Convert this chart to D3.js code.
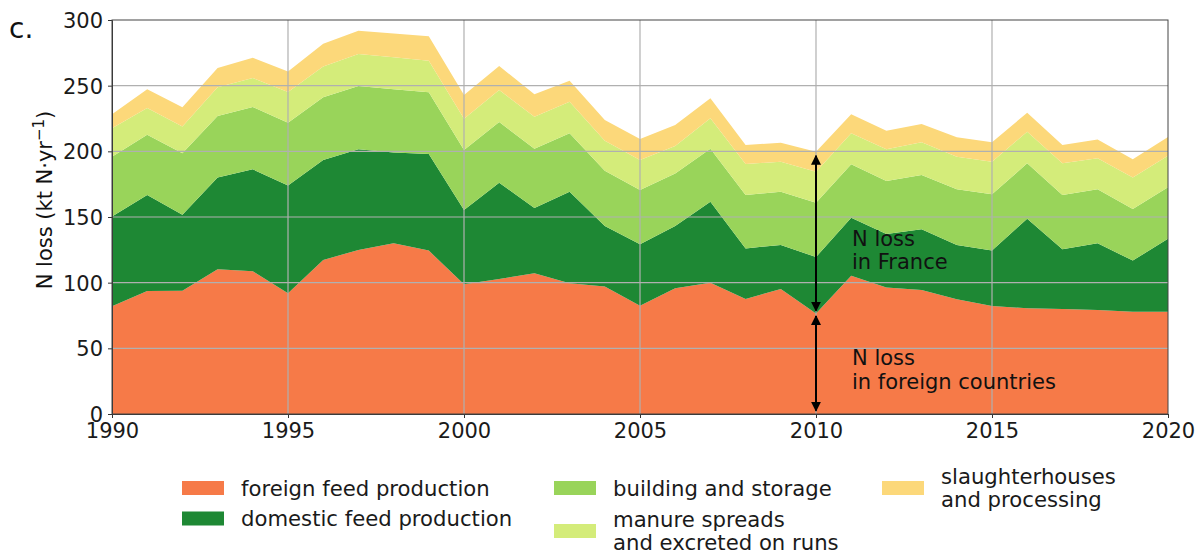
<!DOCTYPE html>
<html>
<head>
<meta charset="utf-8">
<script src="https://cdn.jsdelivr.net/npm/d3@7"></script>
<style>
	body { margin: 0; background: #fff; }
	svg { font-family: "DejaVu Sans", sans-serif; }
</style>
</head>
<body>
<svg id="chart"></svg>
<script>
// values, kt N per year
const years = d3.range(1990, 2021);
const foreignFeed = [82, 93.7, 93.9, 110.2, 108.6, 91.9, 117.3, 124.9, 130, 124.4, 98.7, 102.8, 107.1, 99.5, 97, 82.5, 95.7, 100, 87.6, 95.2, 76.6, 105.3, 96.4, 94.4, 87.3, 82.2, 80.5, 79.9, 79.2, 77.9, 77.9];
const domesticFeed = [68.3, 73.1, 57.9, 69.8, 77.7, 82, 76.1, 76.6, 69.2, 73.6, 56.6, 73.3, 49.8, 69.8, 46.1, 46.7, 47.4, 61.7, 38.5, 33.5, 42.9, 44.2, 40.7, 46.2, 41.4, 42.2, 68.2, 45.5, 50.8, 38.9, 55.6];
const buildingStorage = [45.6, 45.9, 46.7, 46.9, 47.5, 47.9, 47.7, 48.2, 48, 46.9, 45.7, 46.2, 45.1, 44.4, 42.2, 41.4, 40.1, 40.3, 40.7, 40.6, 41.4, 40.6, 40.3, 41.4, 42.4, 42.9, 42.2, 41.4, 41.1, 39.3, 39.1];
const manureRuns = [21.6, 20.3, 20.5, 21.8, 22, 23.4, 23.4, 24.4, 24.4, 24.1, 23.9, 24.4, 24.4, 24.1, 22.8, 22.8, 20.9, 23.1, 23.6, 22.8, 23.6, 23.6, 24.1, 24.9, 24.8, 24.8, 24.1, 24.1, 23.6, 23.9, 24.1];
const slaughterProcessing = [10.7, 14.2, 14.5, 14.8, 15.5, 15.5, 17.5, 17.8, 18.2, 18.6, 18, 18.3, 17, 16, 15.8, 16, 16, 15.3, 14.4, 14.5, 15.2, 14.5, 14.2, 13.9, 14.8, 14.8, 14.4, 13.9, 14.4, 13.9, 14.2];

const seriesKeys = ["foreign", "domestic", "building", "manure", "slaughter"];
const seriesLabels = [["foreign feed production"], ["domestic feed production"], ["building and storage"], ["manure spreads", "and excreted on runs"], ["slaughterhouses", "and processing"]];
const seriesColors = ["#f67a48", "#1e8834", "#99d45a", "#d4ec7a", "#fcd87a"];
const yTicks = [0, 50, 100, 150, 200, 250, 300];
const xTicks = [1990, 1995, 2000, 2005, 2010, 2015, 2020];
const markYear = 2010;

const viewWidth = 1202, viewHeight = 554;
const margin = { left: 112, right: 34, top: 20, bottom: 140 };
const width = 1168 - margin.left;
const height = 414 - margin.top;

const rows = years.map((yr, i) => ({
	year: yr,
	foreign: foreignFeed[i],
	domestic: domesticFeed[i],
	building: buildingStorage[i],
	manure: manureRuns[i],
	slaughter: slaughterProcessing[i]
}));

const svg = d3.select("#chart")
	.attr("width", viewWidth)
	.attr("height", viewHeight);

const g = svg.append("g")
	.attr("transform", "translate(" + margin.left + "," + margin.top + ")");

const x = d3.scaleLinear().domain([1990, 2020]).range([0, width]);
const y = d3.scaleLinear().domain([0, 300]).range([height, 0]);

const stacked = d3.stack().keys(seriesKeys)(rows);

const area = d3.area()
	.x(d => x(d.data.year))
	.y0(d => y(d[0]))
	.y1(d => y(d[1]));

g.selectAll(".layer")
	.data(stacked)
	.join("path")
	.attr("class", "layer")
	.attr("fill", (d, i) => seriesColors[i])
	.attr("d", area);

// grid lines sit above the areas
g.append("g")
	.selectAll("line")
	.data(yTicks.slice(1, -1))
	.join("line")
	.attr("x1", 0).attr("x2", width)
	.attr("y1", d => y(d)).attr("y2", d => y(d))
	.attr("stroke", "#b0b0b0")
	.attr("stroke-width", 1.2);

g.append("g")
	.selectAll("line")
	.data(xTicks.slice(1, -1))
	.join("line")
	.attr("x1", d => x(d)).attr("x2", d => x(d))
	.attr("y1", 0).attr("y2", height)
	.attr("stroke", "#b0b0b0")
	.attr("stroke-width", 1.2);

// axes
const xAxis = g.append("g")
	.attr("transform", "translate(0," + height + ")")
	.call(d3.axisBottom(x).tickValues(xTicks).tickFormat(d3.format("d")).tickSize(4).tickPadding(5));
const yAxis = g.append("g")
	.call(d3.axisLeft(y).tickValues(yTicks).tickSize(4).tickPadding(5));

[xAxis, yAxis].forEach(ax => {
	ax.selectAll("text")
		.style("font-family", "DejaVu Sans")
		.style("font-size", "21px")
		.attr("fill", "#1a1a1a");
	ax.selectAll("line").attr("stroke", "#333");
	ax.select(".domain").attr("stroke", "#333");
});
yAxis.selectAll("text").attr("dy", "0.36em");
xAxis.selectAll("text").attr("dy", "0.7em");

// frame on top and right
g.append("rect")
	.attr("width", width)
	.attr("height", height)
	.attr("fill", "none")
	.attr("stroke", "#444")
	.attr("stroke-width", 1);

// double arrows at 2010
const defs = svg.append("defs");
defs.append("marker")
	.attr("id", "head")
	.attr("viewBox", "0 0 10 10")
	.attr("refX", 9).attr("refY", 5)
	.attr("markerWidth", 5).attr("markerHeight", 5)
	.attr("orient", "auto-start-reverse")
	.append("path")
	.attr("d", "M0,0 L10,5 L0,10 z")
	.attr("fill", "#000");

const mi = years.indexOf(markYear);
const foreignTop = foreignFeed[mi];
const totalTop = stacked[stacked.length - 1][mi][1];
const arrowSpans = [[2.5, foreignTop - 2], [foreignTop + 2, totalTop - 3]];

g.selectAll(".arrow")
	.data(arrowSpans)
	.join("line")
	.attr("class", "arrow")
	.attr("x1", x(markYear)).attr("x2", x(markYear))
	.attr("y1", d => y(d[0])).attr("y2", d => y(d[1]))
	.attr("stroke", "#000")
	.attr("stroke-width", 2)
	.attr("marker-start", "url(#head)")
	.attr("marker-end", "url(#head)");

const notes = [
	{ lines: ["N loss", "in France"], at: 128 },
	{ lines: ["N loss", "in foreign countries"], at: 37 }
];
notes.forEach(n => {
	const t = g.append("text")
		.attr("x", x(markYear) + 36)
		.attr("y", y(n.at))
		.style("font-size", "21px")
		.attr("fill", "#111");
	n.lines.forEach((ln, k) => {
		t.append("tspan")
			.attr("x", x(markYear) + 36)
			.attr("dy", k === 0 ? 0 : 23.3)
			.text(ln);
	});
});

// y axis title
const yTitle = svg.append("text")
	.attr("transform", "translate(52,200) rotate(-90)")
	.attr("text-anchor", "middle")
	.style("font-size", "21px")
	.attr("fill", "#111");
yTitle.append("tspan").text("N loss (kt N·yr");
yTitle.append("tspan").attr("dy", -8).style("font-size", "15px").text("−1");
yTitle.append("tspan").attr("dy", 8).text(")");

// panel letter
svg.append("text")
	.attr("x", 9).attr("y", 38)
	.style("font-size", "28px")
	.attr("fill", "#111")
	.text("c.");

// legend
const legendCols = [182, 554, 882];
const legendItems = [
	{ col: 0, cy: 488 }, { col: 0, cy: 518.5 },
	{ col: 1, cy: 488 }, { col: 1, cy: 531 },
	{ col: 2, cy: 488 }
];
const legend = svg.append("g");
legendItems.forEach((it, i) => {
	const lx = legendCols[it.col];
	legend.append("rect")
		.attr("x", lx).attr("y", it.cy - 7)
		.attr("width", 42).attr("height", 14)
		.attr("fill", seriesColors[i]);
	const lines = seriesLabels[i];
	const t = legend.append("text")
		.attr("x", lx + 59)
		.attr("y", it.cy + 7.5 - (lines.length - 1) * 11.5)
		.style("font-size", "21.2px")
		.attr("fill", "#1a1a1a");
	lines.forEach((ln, k) => {
		t.append("tspan")
			.attr("x", lx + 59)
			.attr("dy", k === 0 ? 0 : 23)
			.text(ln);
	});
});
</script>
</body>
</html>
